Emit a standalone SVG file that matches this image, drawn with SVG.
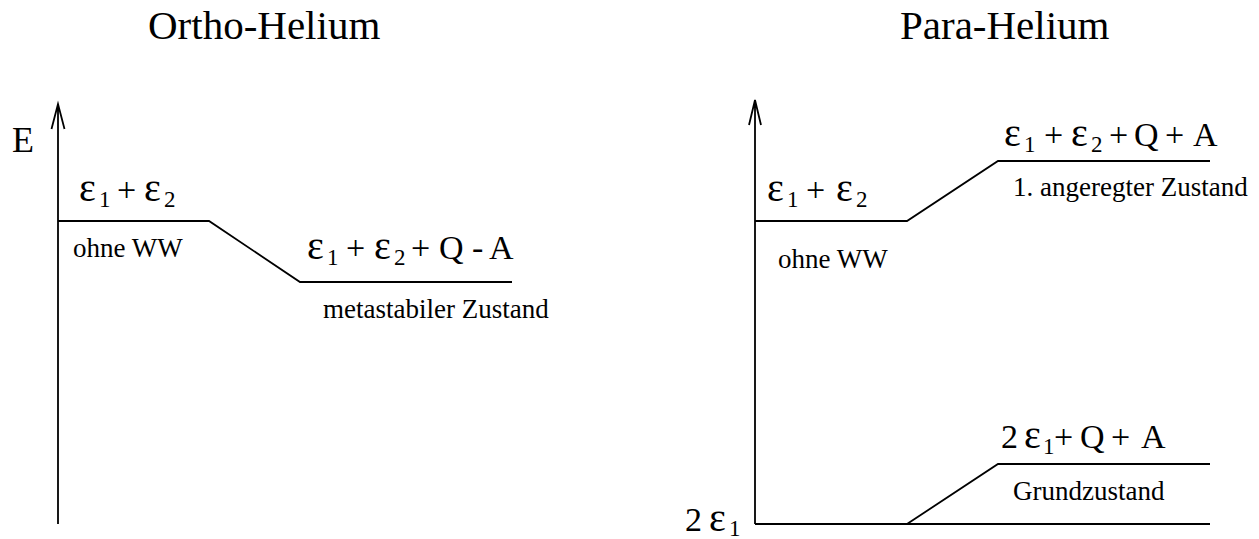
<svg xmlns="http://www.w3.org/2000/svg" width="1259" height="539" viewBox="0 0 1259 539">
<style>
text{font-family:"Liberation Serif","Times New Roman",serif;fill:#000}
.t{font-size:41px}
.m{font-size:34px}
.e{font-size:40px}
.s{font-size:23px}
.l{font-size:27px}
.ln{fill:none;stroke:#000;stroke-width:1.8}
</style>
<rect width="1259" height="539" fill="#fff"/>
<g id="titles">
<text class="t" x="148" y="39">Ortho-Helium</text>
<text class="t" x="900" y="39">Para-Helium</text>
</g>
<g id="connectors">
<path class="ln" d="M58,524 V104 M51.5,129 L58,104 L64.5,129"/>
<path class="ln" d="M58,221 H209 L300,282 H512"/>
<path class="ln" d="M755,524 V100 M749,125 L755,100 L761,125"/>
<path class="ln" d="M755,221 H907 L998,161 H1210"/>
<path class="ln" d="M755,524 H1210 M907,524 L998,464 H1210"/>
</g>
<g id="axis-left">
<text x="12" y="152" style="font-size:36px">E</text>
</g>
<g id="ortho-unperturbed">
<text class="e" x="79" y="201">ε</text><text class="s" x="99" y="207">1</text>
<text class="m" x="117" y="201">+</text>
<text class="e" x="144" y="201">ε</text><text class="s" x="164" y="207">2</text>
<text class="l" x="73" y="257">ohne WW</text>
</g>
<g id="ortho-metastable">
<text class="e" x="307" y="259">ε</text><text class="s" x="327" y="265">1</text>
<text class="m" x="346" y="259">+</text>
<text class="e" x="374" y="259">ε</text><text class="s" x="394" y="265">2</text>
<text class="m" x="411" y="259">+</text>
<text class="m" x="439" y="259">Q</text>
<text class="m" x="472" y="259">-</text>
<text class="m" x="489" y="259">A</text>
<text class="l" x="323" y="318">metastabiler Zustand</text>
</g>
<g id="para-unperturbed">
<text class="e" x="767" y="201">ε</text><text class="s" x="787" y="207">1</text>
<text class="m" x="806" y="201">+</text>
<text class="e" x="836" y="201">ε</text><text class="s" x="856" y="207">2</text>
<text class="l" x="778" y="268">ohne WW</text>
</g>
<g id="para-excited">
<text class="e" x="1004" y="146">ε</text><text class="s" x="1024" y="152">1</text>
<text class="m" x="1044" y="146">+</text>
<text class="e" x="1071" y="146">ε</text><text class="s" x="1091" y="152">2</text>
<text class="m" x="1109" y="146">+</text>
<text class="m" x="1134" y="146">Q</text>
<text class="m" x="1165" y="146">+</text>
<text class="m" x="1193" y="146">A</text>
<text class="l" x="1013" y="196">1. angeregter Zustand</text>
</g>
<g id="para-ground">
<text class="m" x="1001" y="448">2</text>
<text class="e" x="1024" y="448">ε</text><text class="s" x="1043" y="454">1</text>
<text class="m" x="1054" y="448">+</text>
<text class="m" x="1080" y="448">Q</text>
<text class="m" x="1111" y="448">+</text>
<text class="m" x="1141" y="448">A</text>
<text class="l" x="1013" y="500">Grundzustand</text>
</g>
<g id="para-axis-label">
<text class="m" x="685" y="531">2</text>
<text class="e" x="709" y="531">ε</text><text class="s" x="729" y="536">1</text>
</g>
</svg>
